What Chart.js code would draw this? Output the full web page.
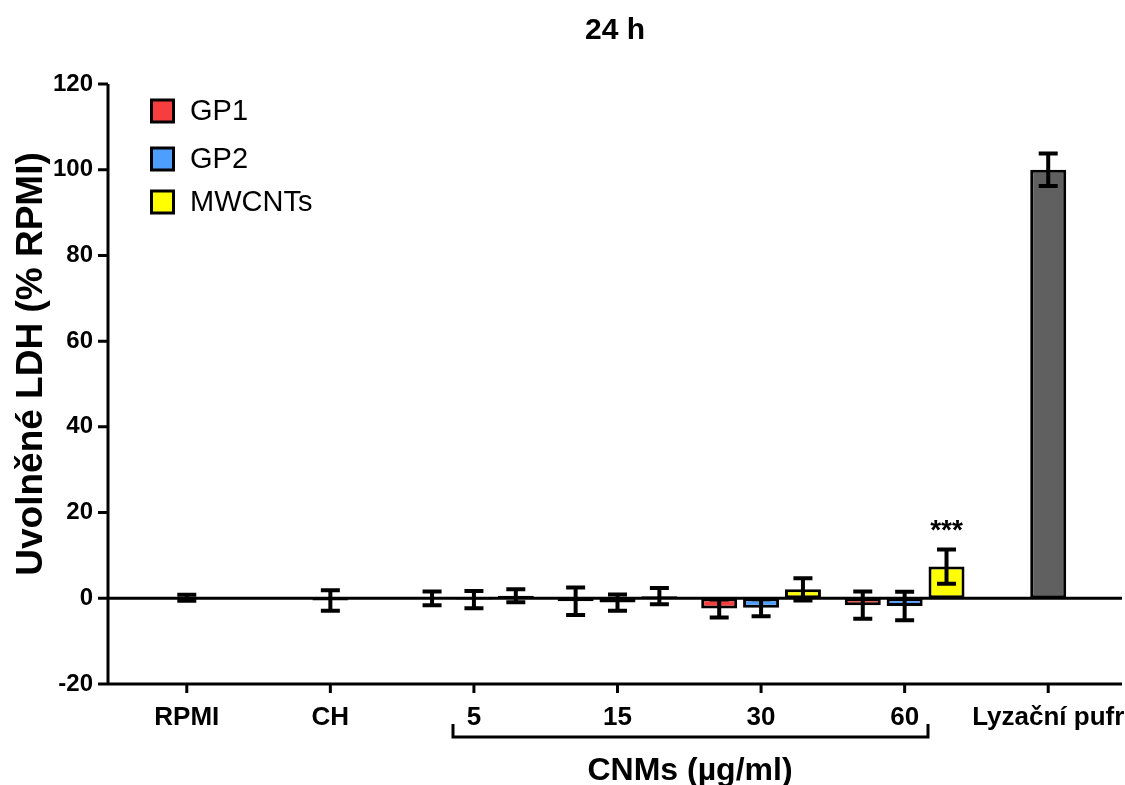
<!DOCTYPE html>
<html>
<head>
<meta charset="utf-8">
<script src="https://cdn.jsdelivr.net/npm/chart.js@4.4.0/dist/chart.umd.min.js"></script>
<style>
  html, body { margin: 0; padding: 0; background: #fff; }
  #wrap { width: 1125px; height: 785px; }
</style>
</head>
<body>
<div id="wrap"><canvas id="ldhChart" width="1125" height="785"></canvas></div>
<script>
// Kategorie na ose x
const categories = ['RPMI', 'CH', '5', '15', '30', '60', 'Lyzační pufr'];

// Průměry a chyby
const gp1 = [null, null, 0.0, -0.7, -2.4, -1.6, null];
const gp1Err = [null, null, 1.6, 3.2, 2.1, 3.2, null];
const gp2 = [null, null, -0.3, -1.0, -2.2, -1.8, null];
const gp2Err = [null, null, 2.0, 1.9, 2.0, 3.3, null];
const mwcnts = [null, null, 0.6, 0.5, 2.1, 7.4, null];
const mwcntsErr = [null, null, 1.5, 1.9, 2.6, 4.0, null];
const controls = [0.1, -0.5, null, null, null, null, 100];
const controlsErr = [0.7, 2.4, null, null, null, null, 3.8];

// Popisky osy y
const yTickValues = [-20, 0, 20, 40, 60, 80, 100, 120];

const FONT = "'Liberation Sans', Arial, sans-serif";
const errors = [gp1Err, gp2Err, mwcntsErr, controlsErr];

// Vlastní kreslení os, chybových úseček, legendy a popisků
const extras = {
  id: 'extras',
  beforeDatasetsDraw(chart) {
    const { ctx, chartArea: a, scales: { x, y } } = chart;
    const axisX = a.left - 7;
    ctx.save();
    ctx.strokeStyle = '#000';
    ctx.lineWidth = 3;
    ctx.lineCap = 'butt';
    // osa y + značky
    ctx.beginPath();
    ctx.moveTo(axisX, a.top);
    ctx.lineTo(axisX, a.bottom + 1.5);
    yTickValues.forEach(v => {
      const py = y.getPixelForValue(v);
      ctx.moveTo(axisX - 10, py);
      ctx.lineTo(axisX, py);
    });
    // spodní osa x + značky
    ctx.moveTo(axisX, a.bottom);
    ctx.lineTo(a.right + 2, a.bottom);
    categories.forEach((c, i) => {
      const px = x.getPixelForValue(i);
      ctx.moveTo(px, a.bottom);
      ctx.lineTo(px, a.bottom + 9);
    });
    // nulová linie
    const y0 = y.getPixelForValue(0);
    ctx.moveTo(axisX, y0);
    ctx.lineTo(a.right + 2, y0);
    ctx.stroke();
    ctx.restore();
  },
  afterDatasetsDraw(chart) {
    const { ctx, scales: { x, y } } = chart;
    ctx.save();
    ctx.strokeStyle = '#000';
    ctx.lineWidth = 4;
    chart.data.datasets.forEach((ds, i) => {
      const meta = chart.getDatasetMeta(i);
      ds.data.forEach((v, j) => {
        if (v === null) return;
        const e = errors[i][j];
        const px = meta.data[j].x;
        const top = y.getPixelForValue(v + e);
        const bot = y.getPixelForValue(v - e);
        ctx.beginPath();
        ctx.moveTo(px, top);
        ctx.lineTo(px, bot);
        ctx.moveTo(px - 9.5, top);
        ctx.lineTo(px + 9.5, top);
        ctx.moveTo(px - 9.5, bot);
        ctx.lineTo(px + 9.5, bot);
        ctx.stroke();
      });
    });

    // hvězdičky u MWCNTs 60
    const m = chart.getDatasetMeta(2).data[5];
    ctx.fillStyle = '#000';
    ctx.font = 'bold 28px ' + FONT;
    ctx.textAlign = 'center';
    ctx.textBaseline = 'alphabetic';
    ctx.fillText('***', m.x, y.getPixelForValue(mwcnts[5] + mwcntsErr[5]) - 10);

    // legenda
    const legendY = [111, 159, 202];
    for (let i = 0; i < 3; i++) {
      const ds = chart.data.datasets[i];
      ctx.fillStyle = ds.backgroundColor;
      ctx.fillRect(151.5, legendY[i] - 11, 22, 22);
      ctx.lineWidth = 3;
      ctx.strokeStyle = '#000';
      ctx.strokeRect(151.5, legendY[i] - 11, 22, 22);
      ctx.fillStyle = '#000';
      ctx.font = '29px ' + FONT;
      ctx.textAlign = 'left';
      ctx.textBaseline = 'middle';
      ctx.fillText(ds.label, 190, legendY[i] + 1);
    }

    // nadpis
    ctx.font = 'bold 30px ' + FONT;
    ctx.textAlign = 'center';
    ctx.textBaseline = 'middle';
    ctx.fillText('24 h', 615, 31);

    // titulek osy y
    ctx.save();
    ctx.translate(32, 364);
    ctx.rotate(-Math.PI / 2);
    ctx.font = 'bold 37px ' + FONT;
    ctx.fillText('Uvolněné LDH (% RPMI)', 0, 0);
    ctx.restore();

    // závorka pod koncentracemi
    ctx.beginPath();
    ctx.lineWidth = 3;
    ctx.moveTo(453, 724);
    ctx.lineTo(453, 737);
    ctx.lineTo(928, 737);
    ctx.lineTo(928, 724);
    ctx.stroke();

    ctx.font = 'bold 32px ' + FONT;
    ctx.fillText('CNMs (µg/ml)', 690, 771);
    ctx.restore();
  }
};

const common = {
  borderColor: '#000',
  borderWidth: 3,
  borderSkipped: false,
  skipNull: true,
  categoryPercentage: 0.875,
  barPercentage: 0.88,
  maxBarThickness: 36
};

new Chart(document.getElementById('ldhChart'), {
  type: 'bar',
  data: {
    labels: categories,
    datasets: [
      Object.assign({ label: 'GP1', data: gp1, backgroundColor: '#f73e3e' }, common),
      Object.assign({ label: 'GP2', data: gp2, backgroundColor: '#4d9eff' }, common),
      Object.assign({ label: 'MWCNTs', data: mwcnts, backgroundColor: '#ffff00' }, common),
      Object.assign({ label: 'Kontroly', data: controls, backgroundColor: '#606060' }, common)
    ]
  },
  options: {
    responsive: false,
    animation: false,
    layout: { padding: { top: 84, right: 5, left: 0, bottom: 0 } },
    plugins: {
      legend: { display: false },
      title: { display: false },
      tooltip: { enabled: false }
    },
    scales: {
      x: {
        grid: { display: false, drawTicks: false },
        border: { display: false },
        ticks: {
          color: '#000',
          padding: 18,
          maxRotation: 0,
          autoSkip: false,
          font: { family: FONT, size: 26, weight: 'bold' }
        },
        afterFit(scale) {
          scale.height = 101;
          scale.paddingLeft = 0;
          scale.paddingRight = 0;
        }
      },
      y: {
        min: -20,
        max: 120,
        grid: { display: false, drawTicks: false },
        border: { display: false },
        afterBuildTicks(scale) { scale.ticks = yTickValues.map(v => ({ value: v })); },
        ticks: {
          color: '#000',
          padding: 22,
          font: { family: FONT, size: 24, weight: 'bold' }
        },
        afterFit(scale) {
          scale.width = 115;
          scale.paddingTop = 0;
          scale.paddingBottom = 0;
        }
      }
    }
  },
  plugins: [extras]
});
</script>
</body>
</html>
